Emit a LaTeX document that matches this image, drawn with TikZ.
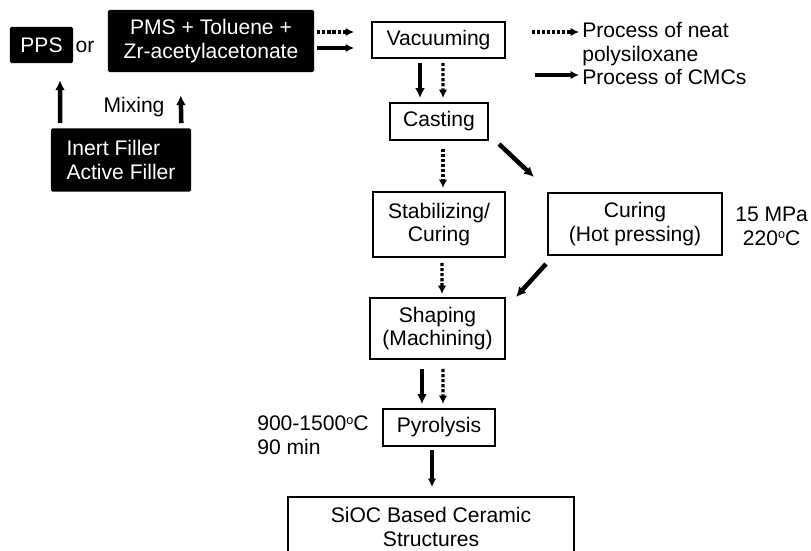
\documentclass[tikz,border=0pt]{standalone}
\usepackage{fontspec}
\setmainfont{Liberation Sans}
\usetikzlibrary{arrows.meta, positioning, calc}

\newcommand{\degc}{\raisebox{0.55ex}{\fontsize{9}{9}\selectfont o}C}

\tikzset{
    frame/.style={draw, line width=1.4pt, inner sep=0pt, align=center},
    blackbox/.style={fill=black, text=white, rounded corners=1pt, inner sep=0pt, align=center},
    plain/.style={inner sep=0pt},
    cmcarrow/.style={line width=3.2pt, -{Latex[length=7pt, width=7pt]}},
    neatarrow/.style={line width=2.2pt, dash pattern=on 2.2pt off 1.4pt, -{Latex[length=6pt, width=6pt]}},
    thinarrow/.style={line width=2.2pt, -{Latex[length=6pt, width=6pt]}},
}

\begin{document}
\begin{tikzpicture}[x=0.025cm, y=-0.025cm, font=\fontsize{15}{17}\selectfont]
    \useasboundingbox (0, 0) rectangle (811, 551);
    \clip (0, 0) rectangle (811, 551);

    % starting materials
    \node[blackbox, minimum width=1.575cm, minimum height=0.9cm] (pps) at (41.5, 45) {PPS};
    \node (or) at (85, 47) {or};
    \node[blackbox, minimum width=5.15cm, minimum height=1.55cm] (pms) at (211, 41) {PMS + Toluene +\\Zr-acetylacetonate};
    \node[blackbox, align=left, minimum width=3.5cm, minimum height=1.575cm] (filler) at (121, 160) {Inert Filler\\Active Filler};
    \node (mixing) at (134, 107) {Mixing};

    % process steps
    \node[frame, minimum width=3.325cm, minimum height=0.9cm] (vac) at (438.5, 40) {Vacuuming};
    \node[frame, minimum width=2.45cm, minimum height=0.925cm] (cast) at (439, 121.5) {Casting};
    \node[frame, minimum width=3.3cm, minimum height=1.625cm] (stab) at (439, 224.5) {Stabilizing/\\Curing};
    \node[frame, minimum width=4.35cm, minimum height=1.55cm] (cure) at (635, 224) {Curing\\(Hot pressing)};
    \node[frame, minimum width=3.375cm, minimum height=1.525cm] (shape) at (437.5, 328.5) {Shaping\\(Machining)};
    \node[frame, minimum width=2.8cm, minimum height=0.925cm] (pyro) at (439, 427.5) {Pyrolysis};
    \node[frame, anchor=north, minimum width=7.15cm, inner ysep=7pt, text depth=3cm] (sioc) at (431, 496) {SiOC Based Ceramic\\Structures};

    % conditions
    \node[plain, anchor=west, align=center] (press) at (735, 226) {15 MPa\\220\degc};
    \node[plain, anchor=west, align=left] (pyrotemp) at (257, 435) {900-1500\degc\\90 min};

    % legend
    \coordinate (neatA) at (532, 32);
    \coordinate (neatB) at (579, 32);
    \coordinate (cmcA) at (535, 75);
    \coordinate (cmcB) at (579, 75);
    \draw[neatarrow] (neatA) -- (neatB);
    \draw[thinarrow] (cmcA) -- (cmcB);
    \node[plain, anchor=west, align=left] (neattext) at (582, 44) {Process of neat\\polysiloxane};
    \node[plain, anchor=west] (cmctext) at (582, 77) {Process of CMCs};

    % connectors
    \draw[cmcarrow] ($(filler.north)+(-61,-5)$) -- ($(pps.south)+(18.5,17)$);
    \draw[cmcarrow] ($(filler.north east)+(-10,-5)$) -- ($(pms.south west)+(73,23)$);
    \draw[neatarrow] ($(pms.east)+(3,-9)$) -- ($(vac.west)+(-17,-8)$);
    \draw[thinarrow] ($(pms.east)+(3,7)$) -- ($(vac.west)+(-17,8)$);
    \draw[cmcarrow] ($(vac.south)+(-18.5,4)$) -- ($(cast.north)+(-19,-4)$);
    \draw[neatarrow] ($(vac.south)+(4.5,4)$) -- ($(cast.north)+(4,-4)$);
    \draw[neatarrow] ($(cast.south)+(4,8)$) -- ($(stab.north)+(4,-3)$);
    \draw[cmcarrow] ($(cast.south east)+(10,3)$) -- ($(cure.north west)+(-13,-15)$);
    \draw[neatarrow] ($(stab.south)+(3,5)$) -- ($(shape.north)+(4.5,-3)$);
    \draw[cmcarrow] ($(cure.south west)+(-1,8)$) -- ($(shape.north east)+(10,0)$);
    \draw[cmcarrow] ($(shape.south)+(-15.5,9)$) -- ($(pyro.north)+(-17,-4)$);
    \draw[neatarrow] ($(shape.south)+(5.5,9)$) -- ($(pyro.north)+(4,-4)$);
    \draw[thinarrow] ($(pyro.south)+(-7,3)$) -- ($(sioc.north)+(1,-9)$);
\end{tikzpicture}
\end{document}
